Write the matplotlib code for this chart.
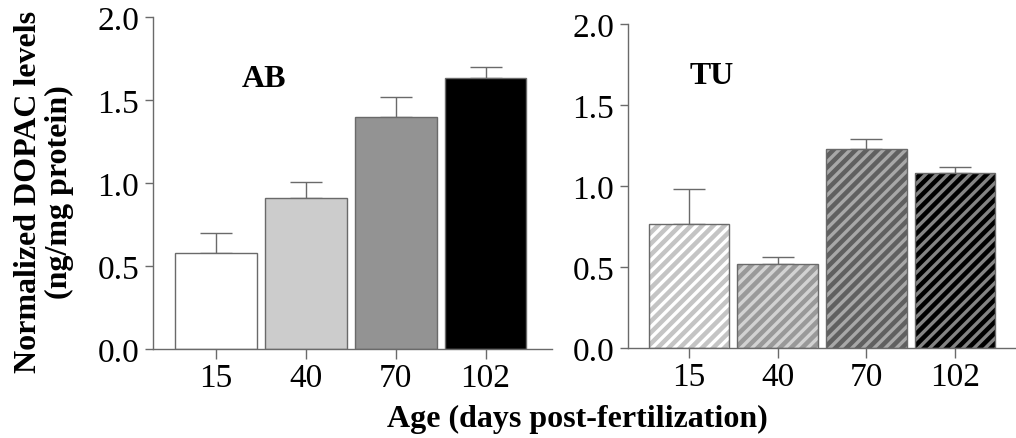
import numpy as np
import matplotlib
matplotlib.use("Agg")
import matplotlib.pyplot as plt

# datos
edades = ["15", "40", "70", "102"]
ab_media = [0.58, 0.91, 1.40, 1.63]
ab_error = [0.12, 0.095, 0.12, 0.07]
tu_media = [0.765, 0.52, 1.23, 1.08]
tu_error = [0.215, 0.04, 0.06, 0.04]

ab_colores = ["#ffffff", "#cccccc", "#939393", "#000000"]
tu_fondo = ["#c4c4c4", "#999999", "#606060", "#000000"]
tu_rayas = ["#ffffff", "#d2d2d2", "#a8a8a8", "#848484"]

plt.rcParams["font.family"] = ["Liberation Serif", "DejaVu Serif"]
plt.rcParams["hatch.linewidth"] = 2.4

gris = "#6a6a6a"
fig = plt.figure(figsize=(10.16, 4.39), dpi=100)

W, H = 1016, 439
ax1 = fig.add_axes([153 / W, (H - 350) / H, (552 - 153) / W, (350 - 18) / H])
ax2 = fig.add_axes([628 / W, (H - 349) / H, (1016 - 628) / W, (349 - 25) / H])

x = np.arange(len(edades))
ancho = 0.91

#panel AB
ax1.bar(x, ab_media, ancho, color=ab_colores, edgecolor=gris, linewidth=1.0, zorder=2)
ax1.errorbar(x, ab_media, yerr=[np.zeros(4), ab_error], fmt="none", ecolor=gris,
             elinewidth=1.0, capsize=11.5, capthick=1.0, zorder=1)
ax1.set_xlim(-0.7, 3.74)
ax1.text(0.54, 1.63, "AB", fontsize=23, fontweight="bold", ha="center", va="center")

#panel TU (barras rayadas)
for i in range(len(edades)):
    ax2.bar(x[i], tu_media[i], ancho, color=tu_fondo[i], edgecolor=tu_rayas[i],
            hatch="///", linewidth=0, zorder=2)
ax2.bar(x, tu_media, ancho, fill=False, edgecolor=gris, linewidth=1.0, zorder=3)
ax2.errorbar(x, tu_media, yerr=[np.zeros(4), tu_error], fmt="none", ecolor=gris,
             elinewidth=1.0, capsize=11.5, capthick=1.0, zorder=1)
ax2.set_xlim(-0.69, 3.69)
ax2.text(0.26, 1.68, "TU", fontsize=23, fontweight="bold", ha="center", va="center")

for ax in (ax1, ax2):
    ax.set_ylim(0, 2.0)
    ax.set_yticks([0.0, 0.5, 1.0, 1.5, 2.0])
    ax.set_yticklabels(["0.0", "0.5", "1.0", "1.5", "2.0"])
    ax.set_xticks(x)
    ax.set_xticklabels(edades)
    ax.spines["top"].set_visible(False)
    ax.spines["right"].set_visible(False)
    for s in ("left", "bottom"):
        ax.spines[s].set_color(gris)
        ax.spines[s].set_linewidth(1.0)
    ax.tick_params(axis="y", length=6, width=1.0, color=gris, labelsize=24, pad=4)
    ax.tick_params(axis="x", length=7, width=1.0, color=gris, labelsize=24, pad=3)

fig.text(44 / W, 1 - 192 / H, "Normalized DOPAC levels\n(ng/mg protein)", rotation=90,
         fontsize=23, fontweight="bold", ha="center", va="center", linespacing=1.1)
fig.text(577 / W, 1 - 419 / H, "Age (days post-fertilization)", fontsize=23,
         fontweight="bold", ha="center", va="center")

fig.savefig("out.png", dpi=100)
